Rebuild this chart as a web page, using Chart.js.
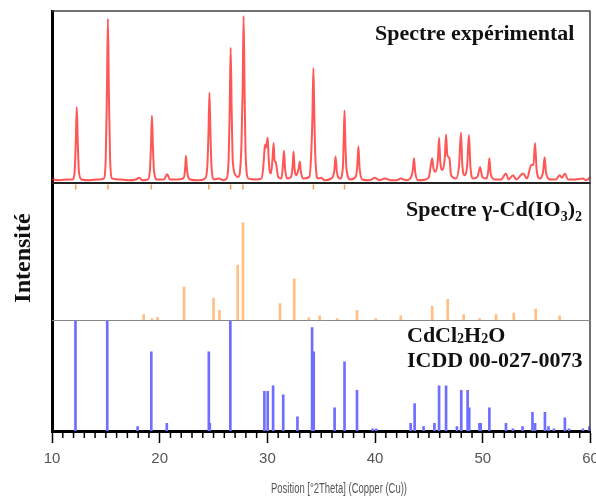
<!DOCTYPE html>
<html>
<head>
<meta charset="utf-8">
<script src="https://cdn.jsdelivr.net/npm/chart.js@4.4.1/dist/chart.umd.min.js"></script>
<style>
  body { margin: 0; background: #fff; }
  canvas { display: block; }
</style>
</head>
<body>
<canvas id="graph" width="596" height="499"></canvas>
<script>
const expTheta = [
  10.0, 10.7, 11.4, 11.9, 12.1, 12.21, 12.30, 12.39, 12.5, 12.75, 13.5, 14.3,
  14.8, 14.99, 15.1, 15.19, 15.28, 15.39, 15.6, 16.3, 17.0, 17.8, 18.1, 18.4, 18.9,
  19.08, 19.19, 19.28, 19.37, 19.48, 19.75, 20.4, 20.69, 20.95, 21.6,
  22.15, 22.3, 22.37, 22.44, 22.51, 22.6, 22.8, 23.6,
  24.2, 24.42, 24.53, 24.62, 24.71, 24.82, 25.05, 25.5, 25.9,
  26.2, 26.39, 26.5, 26.59, 26.68, 26.79, 27.05, 27.3,
  27.45, 27.59, 27.7, 27.79, 27.88, 27.99, 28.25, 28.9,
  29.45, 29.62, 29.72, 29.79, 29.86, 29.93, 30.03, 30.1, 30.2,
  30.33, 30.47, 30.58, 30.67, 30.75, 30.85, 31.0, 31.3,
  31.43, 31.54, 31.64, 31.85, 32.2, 32.34, 32.43, 32.52, 32.7,
  32.9, 33.01, 33.11, 33.35, 33.9, 34.07, 34.18, 34.27, 34.36, 34.47, 34.7,
  35.0, 35.3, 35.9, 36.2, 36.33, 36.45, 36.75,
  37.0, 37.08, 37.16, 37.24, 37.34, 37.7,
  38.2, 38.35, 38.45, 38.55, 38.8, 39.5, 40.0, 40.4, 40.9, 41.5, 42.0, 42.4, 42.9,
  43.35, 43.5, 43.61, 43.72, 44.0, 44.7,
  45.0, 45.15, 45.30, 45.42, 45.6, 45.83, 45.94, 46.05, 46.25,
  46.47, 46.59, 46.7, 46.9, 47.05, 47.5,
  47.8, 47.97, 48.1, 48.3, 48.55, 48.71, 48.85, 49.1,
  49.5, 49.75, 49.95, 50.3, 50.5, 50.61, 50.73, 51.1, 51.7,
  52.15, 52.4, 52.8, 53.1, 53.75, 54.1,
  54.5, 54.7, 54.85, 55.0, 55.3, 55.6, 55.74, 55.88, 56.3,
  56.8, 57.13, 57.35, 57.62, 57.9, 58.6, 59.3, 59.6, 60.0];
const expCounts = [
  1.5, 1.0, 1.5, 1.5, 6, 24, 44, 24, 6, 1.5, 1.0, 1.5,
  2, 14, 53, 96, 53, 14, 2, 1.5, 1.0, 1.5, 2.5, 1.0, 1.5,
  6, 21, 39, 21, 6, 1.5, 1.5, 4.5, 1.5, 1.5,
  2, 4, 9, 15.5, 9, 4, 1.5, 1.0,
  2, 9, 29, 52.5, 29, 8, 1.5, 2, 1.0,
  2, 12, 43, 79, 43, 12, 4, 3,
  6, 22, 54, 97.6, 54, 14, 2, 1.5,
  2, 9, 18, 22, 20, 22, 26, 16, 7,
  5, 13, 23, 12, 12, 9, 3, 2,
  9, 18.4, 8, 2, 3, 9, 18, 8, 4,
  8, 12, 6, 2, 3, 17, 38, 67, 38, 12, 2,
  2.5, 1.0, 2, 6, 15, 6, 2,
  8, 23, 42, 23, 8, 1.5,
  3, 10, 21, 9, 1.5, 1.0, 2.5, 1.0, 2, 1.0, 1.0, 2, 1.0,
  3, 7, 14, 6, 1.0, 1.5,
  3, 9, 14, 8, 6, 13, 26, 12, 7,
  14, 28, 16, 14, 4, 2,
  10, 29, 10, 4, 10, 27.6, 9, 2,
  3, 8.6, 3, 2, 6, 14, 5, 1.5, 1.5,
  5, 1.5, 4, 1.5, 5, 2,
  10, 10, 23, 7, 2, 6, 14.5, 5, 1.5,
  1.5, 4, 2.5, 5, 1.5, 1.5, 2, 1.0, 3];

// gamma-Cd(IO3)2 reference sticks
const refTheta = [18.51, 19.28, 19.8, 22.26, 25.0, 25.55, 27.24, 27.73, 31.17, 32.49, 33.84, 34.86, 36.48, 38.32,
  40.07, 42.38, 45.30, 46.74, 48.22, 49.69, 51.23, 52.88, 54.91, 57.13];
const refInt = [4, 1, 2, 24, 16, 7, 40, 71, 12, 30, 1.5, 3, 1, 7,
  1, 3, 10, 15, 4, 1, 4, 5, 8, 3];

// CdCl2.H2O, ICDD 00-027-0073 sticks
const icddTheta = [12.18, 15.13, 17.95, 19.22, 20.66, 24.56, 24.65, 26.56, 29.72, 30.03, 30.53, 31.47, 32.79, 34.15,
  34.30, 36.24, 37.16, 38.32, 39.77, 40.1, 43.3, 43.67, 44.5, 45.51, 45.94, 46.59, 47.6, 48.0, 48.59, 48.74, 49.69,
  49.8, 50.61, 52.15, 52.8, 53.69, 54.61, 54.85, 55.77, 56.1, 56.6, 57.62, 58.0, 59.3, 59.9];
const icddInt = [100, 100, 4, 72, 7, 72, 7, 100, 36, 36, 41, 33, 13, 94,
  72, 21, 63, 37, 2, 2, 7, 25, 4, 7, 41, 41, 4, 37, 37, 21, 7,
  7, 21, 7, 2, 4, 17, 7, 17, 4, 2, 12, 2, 2, 4];

// small orange marks just under the experimental pattern
const markTheta = [12.2, 15.19, 19.22, 24.56, 26.59, 27.72, 34.27, 37.16];

const xLabels = [10, 20, 30, 40, 50, 60];
const xTitle = 'Position [°2Theta] (Copper (Cu))';
const yTitle = 'Intensité';

const pairs = (xs, ys) => xs.map((v, i) => ({ x: v, y: ys[i] }));

const panelAxis = (weight, stackWeight, min, max) => ({
  type: 'linear', position: 'left', stack: 'panels', stackWeight: stackWeight, weight: weight,
  min: min, max: max,
  afterFit: s => { s.width = 52; },
  grid: { display: false },
  ticks: { display: false },
  border: { display: true, color: '#000', width: 3 }
});

// draws a label made of normal and subscript pieces
function drawParts(ctx, parts, x, y, size, drop) {
  for (const [txt, sub] of parts) {
    ctx.font = 'bold ' + (sub ? Math.round(size * 0.62) : size) + 'px "Liberation Serif"';
    ctx.fillText(txt, x, sub ? y + drop : y);
    x += ctx.measureText(txt).width;
  }
}

const overlay = {
  id: 'overlay',
  afterDraw(chart) {
    const { ctx, chartArea: a, scales } = chart;
    const top = scales.yExp, mid = scales.yRef;
    ctx.save();
    // frame + panel separators
    ctx.lineWidth = 1.5;
    ctx.strokeStyle = '#444';
    ctx.beginPath();
    ctx.moveTo(a.left, a.top); ctx.lineTo(a.right, a.top);
    ctx.moveTo(a.right - 0.5, a.top); ctx.lineTo(a.right - 0.5, a.bottom);
    ctx.stroke();
    ctx.lineWidth = 2;
    ctx.strokeStyle = '#222';
    ctx.beginPath();
    ctx.moveTo(a.left, top.bottom); ctx.lineTo(a.right, top.bottom);
    ctx.stroke();
    ctx.lineWidth = 1;
    ctx.strokeStyle = '#888';
    ctx.beginPath();
    ctx.moveTo(a.left, mid.bottom + 0.5); ctx.lineTo(a.right, mid.bottom + 0.5);
    ctx.stroke();

    // minor ticks every degree
    const x = scales.x;
    ctx.strokeStyle = '#000';
    ctx.lineWidth = 1.5;
    ctx.beginPath();
    for (let v = 11; v < 60; v++) {
      if (v % 10 === 0) continue;
      const px = x.getPixelForValue(v);
      ctx.moveTo(px, a.bottom); ctx.lineTo(px, a.bottom + 7);
    }
    ctx.stroke();

    // panel captions
    ctx.fillStyle = '#111';
    ctx.textBaseline = 'alphabetic';
    ctx.textAlign = 'left';
    drawParts(ctx, [['Spectre expérimental', false]], 375, 40, 22, 0);
    drawParts(ctx, [['Spectre γ-Cd(IO', false], ['3', true], [')', false], ['2', true]], 406, 216, 22, 5);
    drawParts(ctx, [['CdCl', false], ['2', true], ['H', false], ['2', true], ['O', false]], 407, 342, 22, 1);
    drawParts(ctx, [['ICDD 00-027-0073', false]], 407, 367, 22, 0);

    // y title
    ctx.save();
    ctx.translate(30, 258);
    ctx.rotate(-Math.PI / 2);
    ctx.textAlign = 'center';
    ctx.font = 'bold 24px "Liberation Serif"';
    ctx.fillText(yTitle, 0, 0);
    ctx.restore();

    // x title, squeezed like the narrow original font
    ctx.save();
    ctx.font = '14px "Liberation Sans Narrow", "Liberation Sans"';
    const w = ctx.measureText(xTitle).width;
    ctx.translate(339, 489);
    ctx.scale(136 / w, 1);
    ctx.textAlign = 'center';
    ctx.textBaseline = 'middle';
    ctx.fillStyle = '#555';
    ctx.fillText(xTitle, 0, 0);
    ctx.restore();
    ctx.restore();
  }
};

const chart = new Chart('graph', {
  type: 'line',
  data: {
    datasets: [
      {
        label: 'Spectre expérimental',
        data: pairs(expTheta, expCounts),
        yAxisID: 'yExp',
        borderColor: 'rgba(255, 30, 30, 0.75)',
        borderWidth: 2,
        pointRadius: 0,
        cubicInterpolationMode: 'monotone',
        fill: false
      },
      {
        label: 'marks',
        data: markTheta.map(t => ({ x: t, y: 97 })),
        yAxisID: 'yRef',
        showLine: false,
        pointStyle: 'line',
        rotation: 90,
        pointRadius: 2.5,
        borderColor: '#f0a050',
        borderWidth: 1.5
      },
      {
        type: 'bar',
        label: 'Spectre γ-Cd(IO3)2',
        data: pairs(refTheta, refInt),
        yAxisID: 'yRef',
        backgroundColor: '#ffbf85',
        borderWidth: 0,
        barThickness: 2,
        grouped: false
      },
      {
        type: 'bar',
        label: 'CdCl2H2O ICDD 00-027-0073',
        data: pairs(icddTheta, icddInt),
        yAxisID: 'yIcdd',
        backgroundColor: '#6e6eff',
        borderWidth: 0,
        barThickness: 2,
        grouped: false
      }
    ]
  },
  options: {
    responsive: false,
    animation: false,
    layout: { padding: { top: 11, right: 1, left: 0, bottom: 0 } },
    plugins: { legend: { display: false }, tooltip: { enabled: false } },
    scales: {
      x: {
        type: 'linear', position: 'bottom', min: 10, max: 60, offset: false,
        afterFit: s => { s.height = 68; s.paddingLeft = 0; s.paddingRight = 0; },
        border: { color: '#000', width: 3 },
        grid: {
          offset: false,
          drawOnChartArea: false,
          tickLength: 12,
          tickWidth: 1.5,
          tickColor: c => (c.tick && c.tick.value % 10 === 0) ? '#000' : 'rgba(0,0,0,0)'
        },
        ticks: {
          stepSize: 1, autoSkip: false, maxRotation: 0, padding: 7,
          color: '#555',
          font: { family: '"Liberation Sans Narrow", "Liberation Sans"', size: 15 },
          callback: v => xLabels.includes(v) ? String(v) : ''
        }
      },
      yIcdd: panelAxis(1, 111, 0, 101),
      yRef: panelAxis(2, 137, 0, 100),
      yExp: panelAxis(3, 172, -0.6, 100.6)
    }
  },
  plugins: [overlay]
});
</script>
</body>
</html>
